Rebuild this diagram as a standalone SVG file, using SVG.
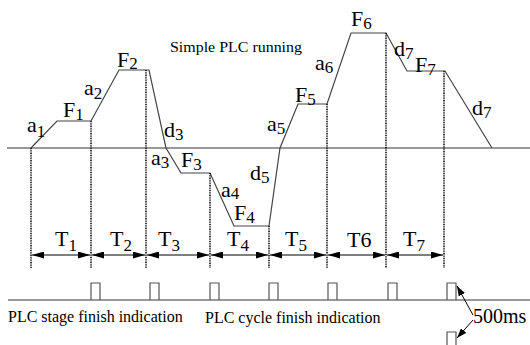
<svg xmlns="http://www.w3.org/2000/svg" width="530" height="345" viewBox="0 0 530 345">
<defs>
<style>
.ax{stroke:#777;stroke-width:1.3;fill:none}
.pr{stroke:#444;stroke-width:1.2;fill:none}
.dt{stroke:#000;stroke-width:1.5;stroke-dasharray:1 0.7;fill:none}
.ar{stroke:#000;stroke-width:1.1;fill:none;marker-start:url(#ah);marker-end:url(#ah)}
.pu{stroke:#555;stroke-width:1.2;fill:none}
.lb{font-family:"Liberation Serif","Times New Roman",serif;font-size:22px;fill:#000}
.sb{font-size:17px}
.tx{font-family:"Liberation Serif","Times New Roman",serif;font-size:16px;fill:#000}
</style>
<marker id="ah" viewBox="0 0 12 7" refX="12" refY="3.5" markerWidth="12" markerHeight="7" markerUnits="userSpaceOnUse" orient="auto-start-reverse">
<path d="M0,0 L12,3.5 L0,7 Z" fill="#000"/>
</marker>
<marker id="ah2" viewBox="0 0 10 7" refX="10" refY="3.5" markerWidth="10" markerHeight="7" markerUnits="userSpaceOnUse" orient="auto">
<path d="M0,0 L10,3.5 L0,7 Z" fill="#000"/>
</marker>
</defs>
<g id="connectors">
<line class="ax" x1="7" y1="148" x2="530" y2="148"/>
<line class="ax" x1="8" y1="300" x2="530" y2="300"/>
<polyline class="pr" points="31,148 57,121 91,121 119,70 149,70 166,148 181,173 210,173 234,226 269,226 280,148 298,104 327,104 351,33 386,33 407,71 445,71 492,148"/>
<line class="dt" x1="31" y1="148" x2="31" y2="268"/>
<line class="dt" x1="91" y1="121" x2="91" y2="268"/>
<line class="dt" x1="146" y1="70" x2="146" y2="268"/>
<line class="dt" x1="210" y1="173" x2="210" y2="268"/>
<line class="dt" x1="269" y1="226" x2="269" y2="268"/>
<line class="dt" x1="327" y1="104" x2="327" y2="268"/>
<line class="dt" x1="386" y1="33" x2="386" y2="268"/>
<line class="dt" x1="444" y1="71" x2="444" y2="268"/>
<line class="ar" x1="32" y1="255" x2="90" y2="255"/>
<line class="ar" x1="92" y1="255" x2="145" y2="255"/>
<line class="ar" x1="147" y1="255" x2="209" y2="255"/>
<line class="ar" x1="211" y1="255" x2="268" y2="255"/>
<line class="ar" x1="270" y1="255" x2="326" y2="255"/>
<line class="ar" x1="328" y1="255" x2="385" y2="255"/>
<line class="ar" x1="387" y1="255" x2="443" y2="255"/>
<polyline class="pu" points="91,300 91,283 100,283 100,300"/>
<polyline class="pu" points="150,300 150,283 159,283 159,300"/>
<polyline class="pu" points="210,300 210,283 219,283 219,300"/>
<polyline class="pu" points="269,300 269,283 278,283 278,300"/>
<polyline class="pu" points="328,300 328,283 337,283 337,300"/>
<polyline class="pu" points="388,300 388,283 397,283 397,300"/>
<polyline class="pu" points="447,300 447,283 456,283 456,300"/>
<polyline class="pu" points="447,345 447,332 456,332 456,345"/>
<line x1="473" y1="315" x2="457" y2="286" stroke="#000" stroke-width="1" marker-end="url(#ah2)"/>
<line x1="473" y1="320" x2="457" y2="338" stroke="#000" stroke-width="1" marker-end="url(#ah2)"/>
</g>
<g id="labels">
<text class="lb" x="27" y="132">a<tspan class="sb" dy="5">1</tspan></text>
<text class="lb" x="63" y="117">F<tspan class="sb" dy="3">1</tspan></text>
<text class="lb" x="84" y="95">a<tspan class="sb" dy="4">2</tspan></text>
<text class="lb" x="117" y="67">F<tspan class="sb" dy="2">2</tspan></text>
<text class="lb" x="164" y="137">d<tspan class="sb" dy="3">3</tspan></text>
<text class="lb" x="151" y="165">a<tspan class="sb" dy="3">3</tspan></text>
<text class="lb" x="181" y="167">F<tspan class="sb" dy="3">3</tspan></text>
<text class="lb" x="221" y="197">a<tspan class="sb" dy="2">4</tspan></text>
<text class="lb" x="234" y="220">F<tspan class="sb" dy="3">4</tspan></text>
<text class="lb" x="250" y="180">d<tspan class="sb" dy="3">5</tspan></text>
<text class="lb" x="267" y="131">a<tspan class="sb" dy="3">5</tspan></text>
<text class="lb" x="295" y="102">F<tspan class="sb" dy="3">5</tspan></text>
<text class="lb" x="315" y="70">a<tspan class="sb" dy="3">6</tspan></text>
<text class="lb" x="351" y="26">F<tspan class="sb" dy="3">6</tspan></text>
<text class="lb" x="394" y="56">d<tspan class="sb" dy="3">7</tspan></text>
<text class="lb" x="415" y="72">F<tspan class="sb" dy="3">7</tspan></text>
<text class="lb" x="472" y="115">d<tspan class="sb" dy="3">7</tspan></text>
<text class="lb" x="55" y="246">T<tspan class="sb" dy="5">1</tspan></text>
<text class="lb" x="110" y="246">T<tspan class="sb" dy="5">2</tspan></text>
<text class="lb" x="158" y="246">T<tspan class="sb" dy="5">3</tspan></text>
<text class="lb" x="227" y="246">T<tspan class="sb" dy="5">4</tspan></text>
<text class="lb" x="285" y="246">T<tspan class="sb" dy="5">5</tspan></text>
<text class="lb" x="347" y="247">T6</text>
<text class="lb" x="403" y="246">T<tspan class="sb" dy="5">7</tspan></text>
<text class="tx" x="170" y="52" style="font-size:14.5px" textLength="132" lengthAdjust="spacingAndGlyphs">Simple PLC running</text>
<text class="tx" x="8" y="322">PLC stage finish indication</text>
<text class="tx" x="205" y="323">PLC cycle finish indication</text>
<text class="lb" x="473" y="323" style="font-size:20px">500ms</text>
</g>
</svg>
